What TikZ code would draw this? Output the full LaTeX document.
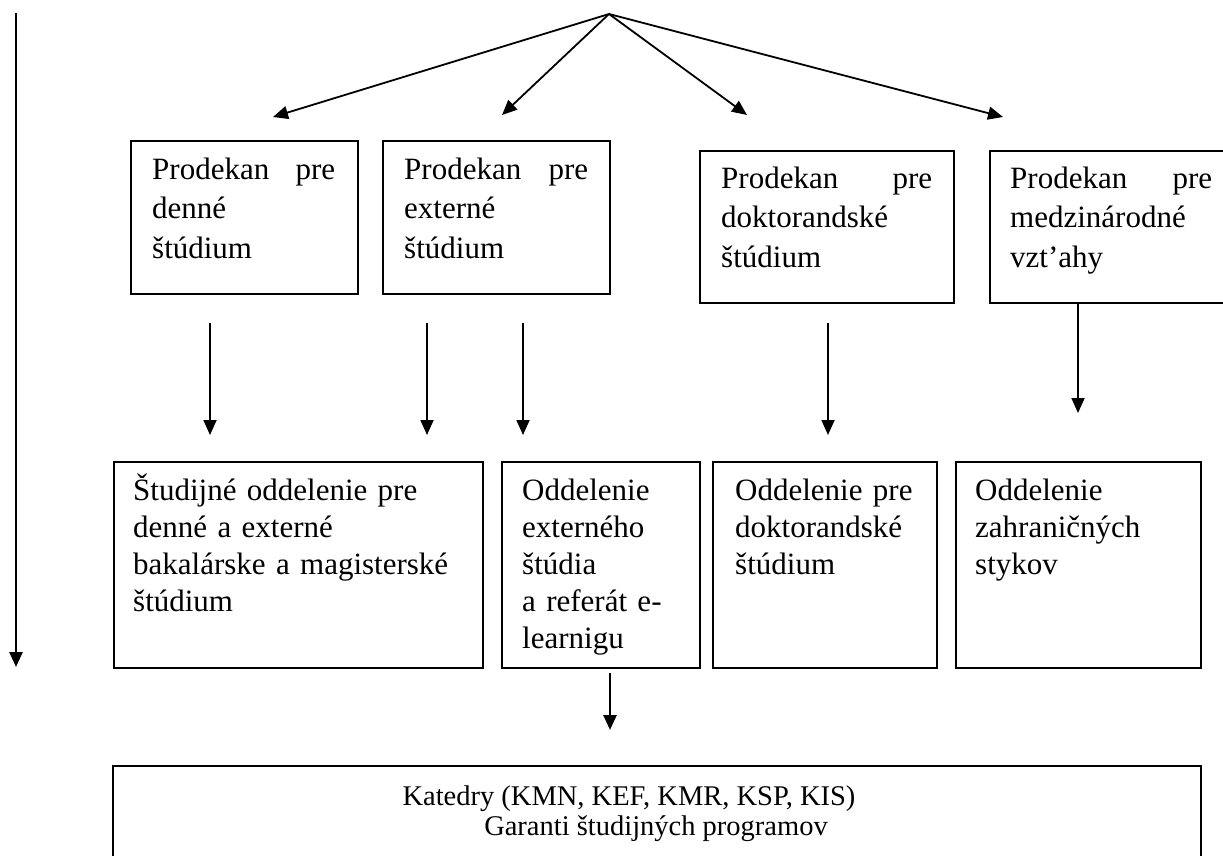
\documentclass[tikz,border=0pt]{standalone}
\usepackage{fontspec}
\setmainfont{Liberation Serif}
\usetikzlibrary{arrows.meta}
\begin{document}
\begin{tikzpicture}[x=1pt,y=-1pt,
  boxnode/.style={draw, line width=1.8pt, inner sep=0pt, anchor=north west},
  toptext/.style={anchor=north west, inner sep=0pt, align=left, font=\fontsize{31}{39.5}\selectfont},
  midtext/.style={anchor=north west, inner sep=0pt, align=left, font=\fontsize{31}{37}\selectfont},
  arr/.style={line width=1.8pt, -{Triangle[length=15pt,width=13pt]}},
  arrthick/.style={line width=2.6pt, -{Triangle[length=15pt,width=13pt]}},
  ]
\useasboundingbox (0,0) rectangle (1223,855);
\clip (0,0) rectangle (1223,855);
\fill[white] (0,0) rectangle (1223,855);

% top row boxes
\node[boxnode, minimum width=227pt, minimum height=153pt] (pd) at (130,140) {};
\node[boxnode, minimum width=227pt, minimum height=153pt] (pe) at (382,140) {};
\node[boxnode, minimum width=254pt, minimum height=152pt] (pdok) at (699,150) {};
\node[boxnode, minimum width=260pt, minimum height=152pt] (pm) at (989,150) {};

\node[toptext, text width=183pt] (pdt) at (152,151.35) {\strut Prodekan\hfill pre\\denné\\štúdium};
\node[toptext, text width=184pt] (pet) at (404,151.35) {\strut Prodekan\hfill pre\\externé\\štúdium};
\node[toptext, text width=211pt] (pdokt) at (721,160.35) {\strut Prodekan\hfill pre\\doktorandské\\štúdium};
\node[toptext, text width=202pt] (pmt) at (1010,160.35) {\strut Prodekan\hfill pre\\medzinárodné\\vzt’ahy};

% second row boxes
\node[boxnode, minimum width=369pt, minimum height=206pt] (so) at (113,461) {};
\node[boxnode, minimum width=198pt, minimum height=206pt] (oe) at (501,461) {};
\node[boxnode, minimum width=224pt, minimum height=206pt] (od) at (712,461) {};
\node[boxnode, minimum width=245pt, minimum height=206pt] (oz) at (955,461) {};

\node[midtext, text width=360pt] (sot) at (133,474.1) {\strut Študijné oddelenie pre\\denné a externé\\bakalárske a magisterské\\štúdium};
\node[midtext, text width=170pt] (oet) at (522,474.1) {\strut Oddelenie\\externého\\štúdia\\a referát e-\\learnigu};
\node[midtext, text width=195pt] (odt) at (735,474.1) {\strut Oddelenie pre\\doktorandské\\štúdium};
\node[midtext, text width=220pt] (ozt) at (975,474.1) {\strut Oddelenie\\zahraničných\\stykov};

% bottom box
\node[boxnode, minimum width=1088pt, minimum height=140pt] (kat) at (112,765) {};
\node[font=\fontsize{28.5}{34}\selectfont, anchor=base, inner sep=0pt] (katt) at (629,805) {Katedry (KMN, KEF, KMR, KSP, KIS)};
\node[font=\fontsize{28.5}{34}\selectfont, anchor=base, inner sep=0pt] (gar) at (656,835) {Garanti študijných programov};

% coordinates for free arrow ends
\coordinate (apex) at (609,14);
\coordinate (t1) at (273,117);
\coordinate (t2) at (502,115);
\coordinate (t3) at (747,115);
\coordinate (t4) at (1003,117);
\coordinate (v1s) at (210,323); \coordinate (v1e) at (210,435);
\coordinate (v2s) at (427,323); \coordinate (v2e) at (427,435);
\coordinate (v3s) at (523,323); \coordinate (v3e) at (523,435);
\coordinate (v4s) at (828,323); \coordinate (v4e) at (828,435);
\coordinate (v5e) at (1078,413);
\coordinate (bs) at (610,673); \coordinate (be) at (610,730);
\coordinate (lt) at (16,13); \coordinate (lb) at (16,667);

% arrows
\draw[arr] (apex) -- (t1);
\draw[arr] (apex) -- (t2);
\draw[arr] (apex) -- (t3);
\draw[arr] (apex) -- (t4);
\draw[arr] (v1s) -- (v1e);
\draw[arr] (v2s) -- (v2e);
\draw[arr] (v3s) -- (v3e);
\draw[arr] (v4s) -- (v4e);
\draw[arr] (pm.south -| v5e) -- (v5e);
\draw[arrthick] (bs) -- (be);
\draw[arrthick] (lt) -- (lb);
\end{tikzpicture}
\end{document}
